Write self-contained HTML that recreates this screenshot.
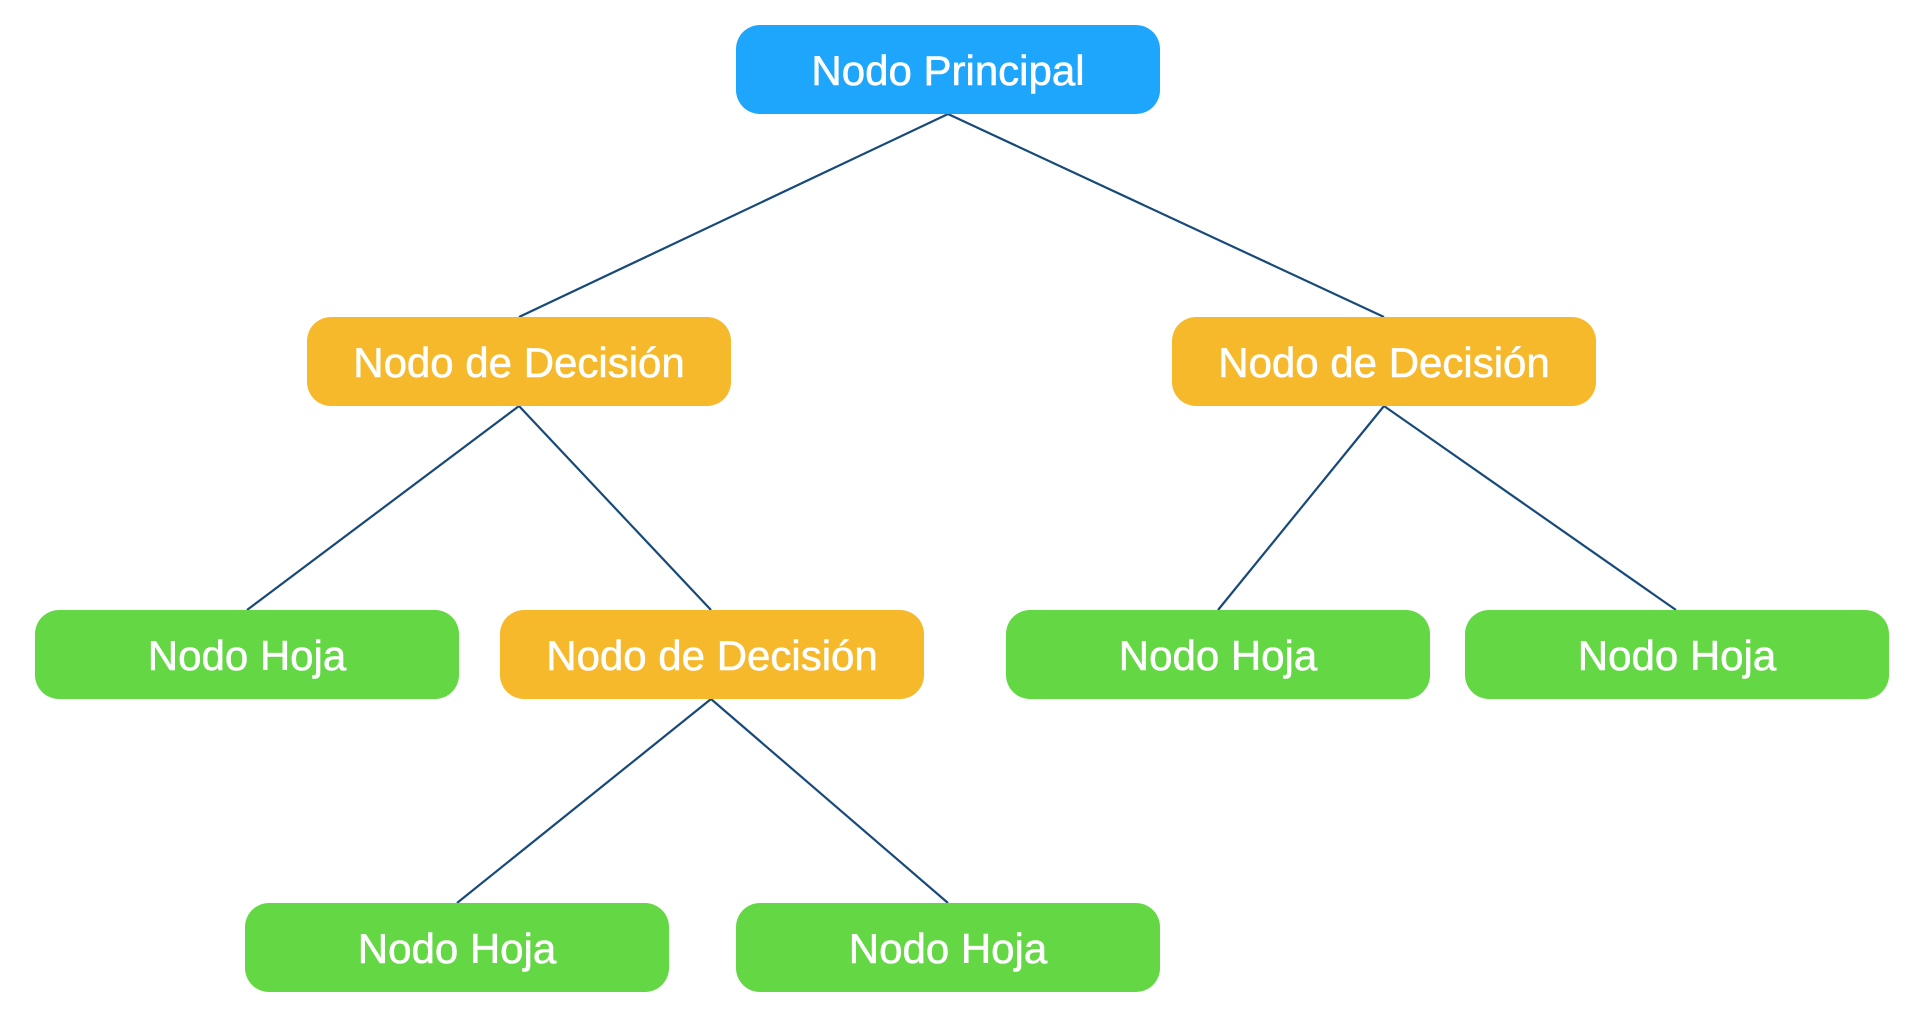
<!DOCTYPE html>
<html><head><meta charset="utf-8"><style>
html,body{margin:0;padding:0;background:#fff;}
body{width:1924px;height:1025px;position:relative;overflow:hidden;font-family:"Liberation Sans",sans-serif;}
.n{position:absolute;width:424px;height:89px;border-radius:24px;color:#fff;font-size:42px;display:flex;align-items:center;justify-content:center;-webkit-text-stroke:0.6px #fff;}
.n span{position:relative;top:1px}
.b{background:#1ea5fc}.o{background:#f6b92c}.g{background:#63d744}
svg{position:absolute;left:0;top:0}
</style></head><body>
<svg width="1924" height="1025"><g stroke="#174a7a" stroke-width="2.2" fill="none">
<line x1="948" y1="114" x2="519" y2="317"/>
<line x1="948" y1="114" x2="1384" y2="317"/>
<line x1="519" y1="406" x2="247" y2="610"/>
<line x1="519" y1="406" x2="711" y2="610"/>
<line x1="1384" y1="406" x2="1218" y2="610"/>
<line x1="1384" y1="406" x2="1676" y2="610"/>
<line x1="711" y1="699" x2="457" y2="903"/>
<line x1="711" y1="699" x2="948" y2="903"/>
</g></svg>
<div class="n b" style="left:736px;top:25px"><span>Nodo Principal</span></div>
<div class="n o" style="left:307px;top:317px"><span>Nodo de Decisión</span></div>
<div class="n o" style="left:1172px;top:317px"><span>Nodo de Decisión</span></div>
<div class="n g" style="left:35px;top:610px"><span>Nodo Hoja</span></div>
<div class="n o" style="left:500px;top:610px"><span>Nodo de Decisión</span></div>
<div class="n g" style="left:1006px;top:610px"><span>Nodo Hoja</span></div>
<div class="n g" style="left:1465px;top:610px"><span>Nodo Hoja</span></div>
<div class="n g" style="left:245px;top:903px"><span>Nodo Hoja</span></div>
<div class="n g" style="left:736px;top:903px"><span>Nodo Hoja</span></div>
</body></html>
